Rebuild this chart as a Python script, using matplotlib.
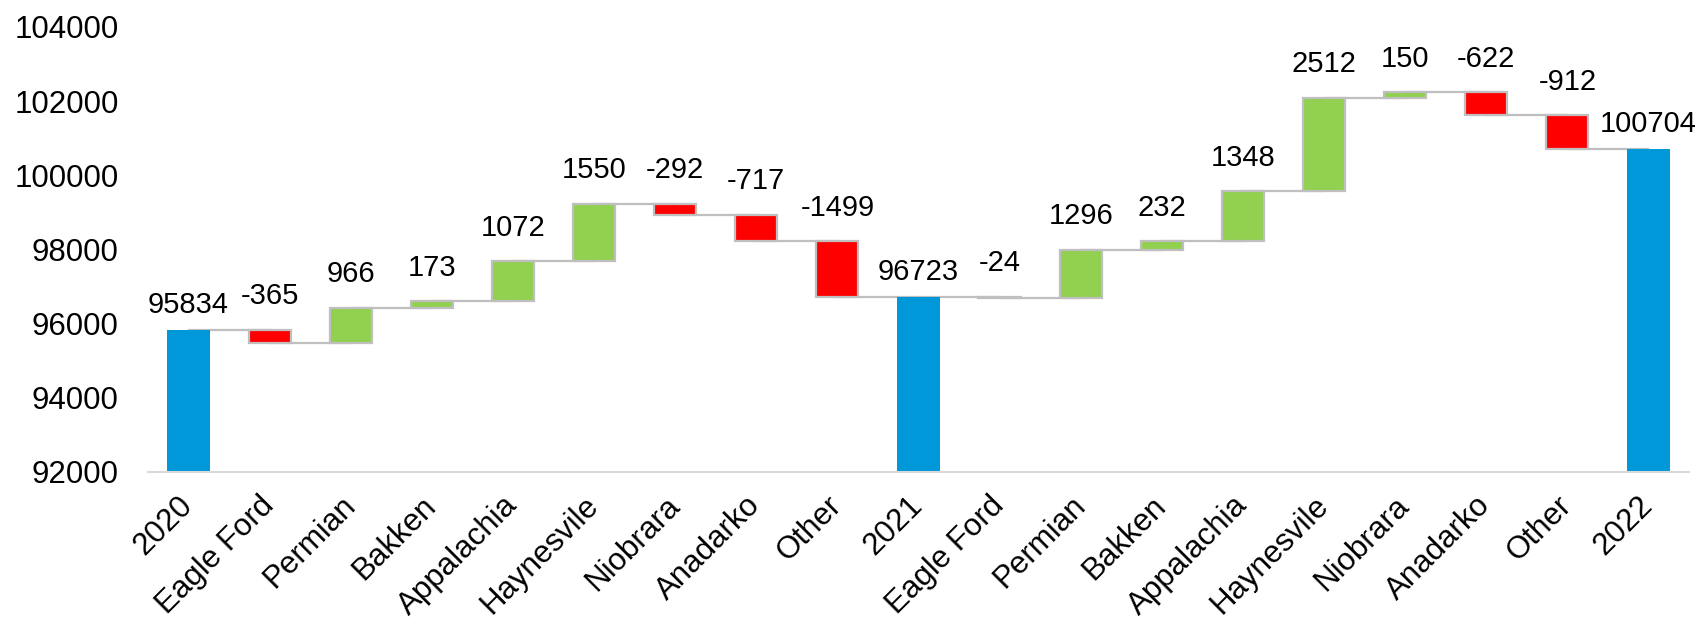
import matplotlib.pyplot as plt

# categories along the x axis
categories = ["2020", "Eagle Ford", "Permian", "Bakken", "Appalachia", "Haynesvile",
              "Niobrara", "Anadarko", "Other", "2021", "Eagle Ford", "Permian", "Bakken",
              "Appalachia", "Haynesvile", "Niobrara", "Anadarko", "Other", "2022"]

# value of each step; totals are the full levels
values = [95834, -365, 966, 173, 1072, 1550, -292, -717, -1499,
          96723, -24, 1296, 232, 1348, 2512, 150, -622, -912,
          100704]
is_total = [True] + [False] * 8 + [True] + [False] * 8 + [True]

base_value = 92000

plt.rcParams['font.family'] = ['Liberation Sans', 'DejaVu Sans']

fig = plt.figure(figsize=(16.99, 6.23), dpi=100)
ax = fig.add_axes([0.0871, 0.2424, 0.907, 0.7143])

x = list(range(len(categories)))
width = 0.52

level = 0
bottoms = []
heights = []
tops = []
ends = []
for v, t in zip(values, is_total):
    if t:
        bottoms.append(base_value)
        heights.append(v - base_value)
        tops.append(v)
        level = v
    else:
        start = level
        level = level + v
        bottoms.append(min(start, level))
        heights.append(abs(v))
        tops.append(max(start, level))
    ends.append(level)

# connector lines from bar center to next bar center
for i in range(len(x) - 1):
    ax.plot([x[i], x[i + 1]], [ends[i], ends[i]], color='#bfbfbf', lw=1.6, zorder=1)

for i in x:
    if is_total[i]:
        ax.bar(x[i], heights[i], width, bottom=bottoms[i], color='#0098d8',
               edgecolor='none', zorder=2)
        off = 8
    else:
        col = '#92d050' if values[i] >= 0 else '#ff0000'
        ax.bar(x[i], heights[i], width, bottom=bottoms[i], color=col,
               edgecolor='#bfbfbf', linewidth=1.6, zorder=2)
        off = 14
    ax.annotate(str(values[i]), (x[i], tops[i]), xytext=(0, off),
                textcoords='offset points', ha='center', va='bottom', fontsize=21)

ax.set_xlim(-0.5, len(x) - 0.5)
ax.set_ylim(base_value, 104000)
ax.set_yticks(range(92000, 104001, 2000))
ax.set_xticks(x)
ax.set_xticklabels(categories, rotation=45, ha='right', va='center',
                   rotation_mode='anchor', fontsize=22.5)
ax.tick_params(axis='both', length=0)
ax.tick_params(axis='y', labelsize=22.5, pad=21)
ax.tick_params(axis='x', pad=21)

for s in ['top', 'right', 'left']:
    ax.spines[s].set_visible(False)
ax.spines['bottom'].set_color('#d9d9d9')
ax.spines['bottom'].set_linewidth(1.5)
ax.spines['bottom'].set_zorder(3)

fig.savefig('out.png', dpi=100)
